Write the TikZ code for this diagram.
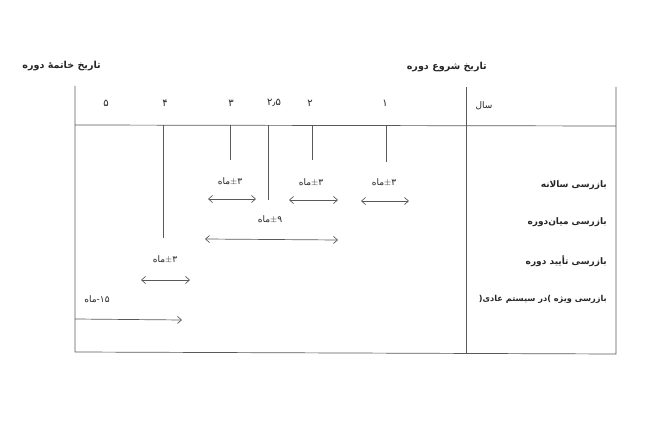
\documentclass[tikz,border=0pt]{standalone}
\usepackage{fontspec}
\newfontfamily\arabicfont[Script=Arabic]{DejaVu Sans}
\TeXXeTstate=1
\usetikzlibrary{arrows.meta}

\begin{document}
\begin{tikzpicture}[x=1pt, y=-1pt, >={Straight Barb[length=4pt,width=7pt]},
    every node/.style={inner sep=0pt, text=black!85},
    khat/.style={draw=black!65, line width=0.7pt},
    adad/.style={font=\arabicfont\fontsize{9}{11}\selectfont},
    radif/.style={anchor=east, font=\arabicfont\bfseries\fontsize{9}{11}\selectfont}]
    \useasboundingbox (0,0) rectangle (649,433);

    % Jadval
    \draw[khat] (75,86) -- (75,352) -- (616,354) -- (616,87);
    \draw[khat] (466,87) -- (466,353);
    \draw[khat] (75,125) -- (616,126);

    % Onvanha
    \node[radif, font=\arabicfont\bfseries\fontsize{9.6}{12}\selectfont] (payan) at (101,66) {\beginR تاریخ خاتمهٔ دوره\endR};
    \node[radif, font=\arabicfont\bfseries\fontsize{9.6}{12}\selectfont] (shoru) at (487,67) {\beginR تاریخ شروع دوره\endR};
    \node[adad] (sal) at (484,106) {\beginR سال\endR};

    % Salha
    \node[adad, font=\arabicfont\fontsize{10}{12}\selectfont] (s5) at (106,103) {۵};
    \node[adad, font=\arabicfont\fontsize{10}{12}\selectfont] (s4) at (165,103) {۴};
    \node[adad, font=\arabicfont\fontsize{10}{12}\selectfont] (s3) at (231,103) {۳};
    \node[adad, font=\arabicfont\fontsize{10}{12}\selectfont] (s25) at (274,103) {۲٫۵};
    \node[adad, font=\arabicfont\fontsize{10}{12}\selectfont] (s2) at (310,103) {۲};
    \node[adad, font=\arabicfont\fontsize{10}{12}\selectfont] (s1) at (385,103) {۱};

    % Khotoot-e amudi
    \coordinate (b4) at (163,125);  \coordinate (e4) at (163,238);
    \coordinate (b3) at (230,125);  \coordinate (e3) at (230,160);
    \coordinate (b25) at (268,125); \coordinate (e25) at (268,200);
    \coordinate (b2) at (312,125);  \coordinate (e2) at (312,160);
    \coordinate (b1) at (386,126);  \coordinate (e1) at (386,162);
    \foreach \t in {4,3,25,2,1}
        \draw[khat] (b\t) -- (e\t);

    % Radifha
    \node[radif] (salane) at (607,185) {\beginR بازرسی سالانه\endR};
    \node[radif] (miane) at (607,222) {\beginR بازرسی میان‌دوره\endR};
    \node[radif] (taeed) at (607,261) {\beginR بازرسی تأیید دوره\endR};
    \node[radif, font=\arabicfont\bfseries\fontsize{8.2}{11}\selectfont] (vizhe) at (607,299)
        {\beginR بازرسی ویژه \hbox{)}در سیستم عادی\hbox{(}\endR};

    % Bazeha
    \coordinate (a1) at (208,199); \coordinate (a2) at (256,199);
    \coordinate (a3) at (289,200); \coordinate (a4) at (338,200);
    \coordinate (a5) at (361,201); \coordinate (a6) at (409,201);
    \coordinate (m1) at (205,239); \coordinate (m2) at (338,240);
    \coordinate (c1) at (141,280); \coordinate (c2) at (190,280);
    \coordinate (v1) at (75,319);  \coordinate (v2) at (182,320);
    \draw[khat, <->] (a1) -- (a2);
    \draw[khat, <->] (a3) -- (a4);
    \draw[khat, <->] (a5) -- (a6);
    \draw[khat, <->] (m1) -- (m2);
    \draw[khat, <->] (c1) -- (c2);
    \draw[khat, ->] (v1) -- (v2);

    \node[adad] (l1) at (230,181) {\hbox{ماه}\hbox{$\pm$}\hbox{۳}};
    \node[adad] (l2) at (311,182) {\hbox{ماه}\hbox{$\pm$}\hbox{۳}};
    \node[adad] (l3) at (384,182) {\hbox{ماه}\hbox{$\pm$}\hbox{۳}};
    \node[adad] (l4) at (270,219) {\hbox{ماه}\hbox{$\pm$}\hbox{۹}};
    \node[adad] (l5) at (165,259) {\hbox{ماه}\hbox{$\pm$}\hbox{۳}};
    \node[adad] (l6) at (97,299) {\hbox{ماه}\hbox{-}\hbox{۱۵}};
\end{tikzpicture}
\end{document}
